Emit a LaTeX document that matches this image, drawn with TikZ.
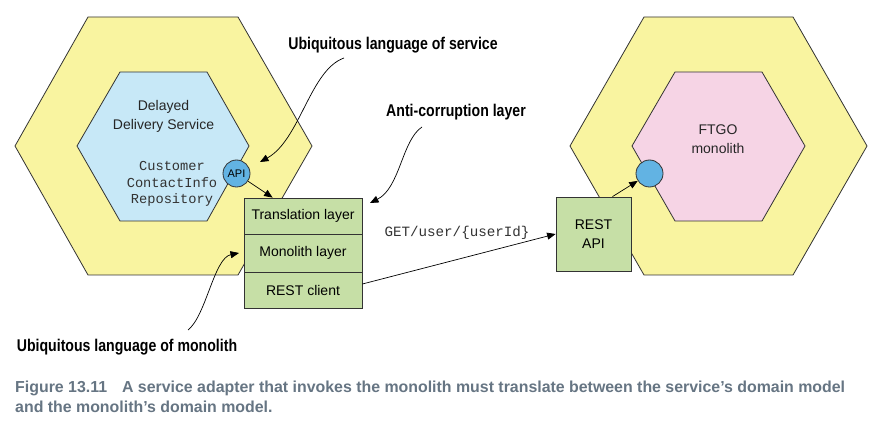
\documentclass[tikz,border=0pt]{standalone}
\usepackage{fontspec}
\setmainfont{Liberation Sans}
\setmonofont{Liberation Mono}
\newfontfamily\annfont[FakeStretch=0.83]{Liberation Sans}
\usetikzlibrary{arrows.meta}
\definecolor{hexyellow}{HTML}{F9F4A0}
\definecolor{svcblue}{HTML}{C7E8F7}
\definecolor{monopink}{HTML}{F6D4E5}
\definecolor{boxgreen}{HTML}{C6DFA6}
\definecolor{apiblue}{HTML}{62B3E3}
\definecolor{capgrey}{HTML}{667583}
\definecolor{linegrey}{HTML}{333333}
\tikzset{
  hexout/.style={fill=hexyellow,draw=linegrey,line width=0.8pt,line join=miter},
  svchex/.style={fill=svcblue,draw=linegrey,line width=0.8pt},
  monohex/.style={fill=monopink,draw=linegrey,line width=0.8pt},
  lbl/.style={font=\fontsize{14}{19}\selectfont,align=center,inner sep=0pt,text=black!85},
  codetxt/.style={font=\ttfamily\fontsize{13.7}{16.5}\selectfont,align=center,inner sep=0pt,text=black!80},
  apicirc/.style={circle,fill=apiblue,draw=linegrey,line width=0.8pt,minimum size=27pt,inner sep=0pt,font=\fontsize{11}{12}\selectfont},
  layer/.style={rectangle,fill=boxgreen,draw=linegrey,line width=0.8pt,minimum width=118pt,inner sep=0pt,font=\fontsize{14}{19}\selectfont,align=center},
  arr/.style={draw=black,line width=0.7pt,-{Triangle[length=8.5pt,width=7pt]}},
  ann/.style={font=\annfont\bfseries\fontsize{17}{20}\selectfont,inner sep=0pt},
  captxt/.style={font=\bfseries\fontsize{15.9}{20}\selectfont,text=capgrey,inner sep=0pt,anchor=base west}
}
\begin{document}
\begin{tikzpicture}[x=1pt,y=-1pt]
\useasboundingbox[fill=white] (0,0) rectangle (886,430);
% left service hexagons
\draw[hexout] (88,17) -- (238,17) -- (312,146) -- (238,275) -- (88,275) -- (15,146) -- cycle;
\draw[svchex] (120,72) -- (207,72) -- (249,146) -- (207,221) -- (120,221) -- (77,146) -- cycle;
% right monolith hexagons
\draw[hexout] (644,17) -- (793,17) -- (867,146) -- (793,275) -- (644,275) -- (570,146) -- cycle;
\draw[monohex] (675,72) -- (762,72) -- (805,146) -- (762,221) -- (675,221) -- (632,146) -- cycle;
% texts in hexagons
\node[lbl] (svcname) at (163.5,116.5) {Delayed\\Delivery Service};
\node[codetxt] (repo) at (172,184) {Customer\\ContactInfo\\Repository};
\node[lbl] (ftgo) at (718,139) {FTGO\\monolith};
% API circles
\node[apicirc] (api) at (236.5,173.5) {API};
\node[apicirc] (ftgoapi) at (649.5,173.5) {};
% adapter stack
\node[layer,minimum height=36pt] (trans) at (303,216) {Translation layer};
\node[layer,minimum height=38pt] (mono) at (303,253) {Monolith layer};
\node[layer,minimum height=36pt] (restc) at (303,290) {REST client};
% REST API box
\node[layer,minimum width=75pt,minimum height=74pt] (restapi) at (593.5,234) {REST\\API};
% connectors
\draw[arr] (api) -- ([xshift=29pt]trans.north west);
\draw[arr] ([xshift=19pt]restapi.north) -- (ftgoapi);
\draw[arr] ([yshift=6pt]restc.east) -- (restapi.west);
\node[codetxt,font=\ttfamily\fontsize{14.2}{16}\selectfont] (getlbl) at (457,233) {GET/user/\{userId\}};
% annotations
\node[ann] (annsvc) at (393,45) {Ubiquitous language of service};
\node[ann] (annacl) at (456,112) {Anti-corruption layer};
\node[ann] (annmono) at (127,347) {Ubiquitous language of monolith};
\coordinate (svcfrom) at (344,58);
\coordinate (svcto) at (260,162);
\coordinate (aclfrom) at (422,127);
\coordinate (aclto) at (370,203);
\coordinate (monofrom) at (188,330);
\coordinate (monoto) at (239,253);
\draw[arr] (svcfrom) .. controls (310,70) and (300,140) .. (svcto);
\draw[arr] (aclfrom) .. controls (402,140) and (400,188) .. (aclto);
\draw[arr] (monofrom) .. controls (206,316) and (214,258) .. (monoto);
% caption
\node[captxt] (cap1) at (15,392.5) {Figure 13.11\hspace{15pt}A service adapter that invokes the monolith must translate between the service’s domain model};
\node[captxt] (cap2) at (15,412.5) {and the monolith’s domain model.};
\end{tikzpicture}
\end{document}
